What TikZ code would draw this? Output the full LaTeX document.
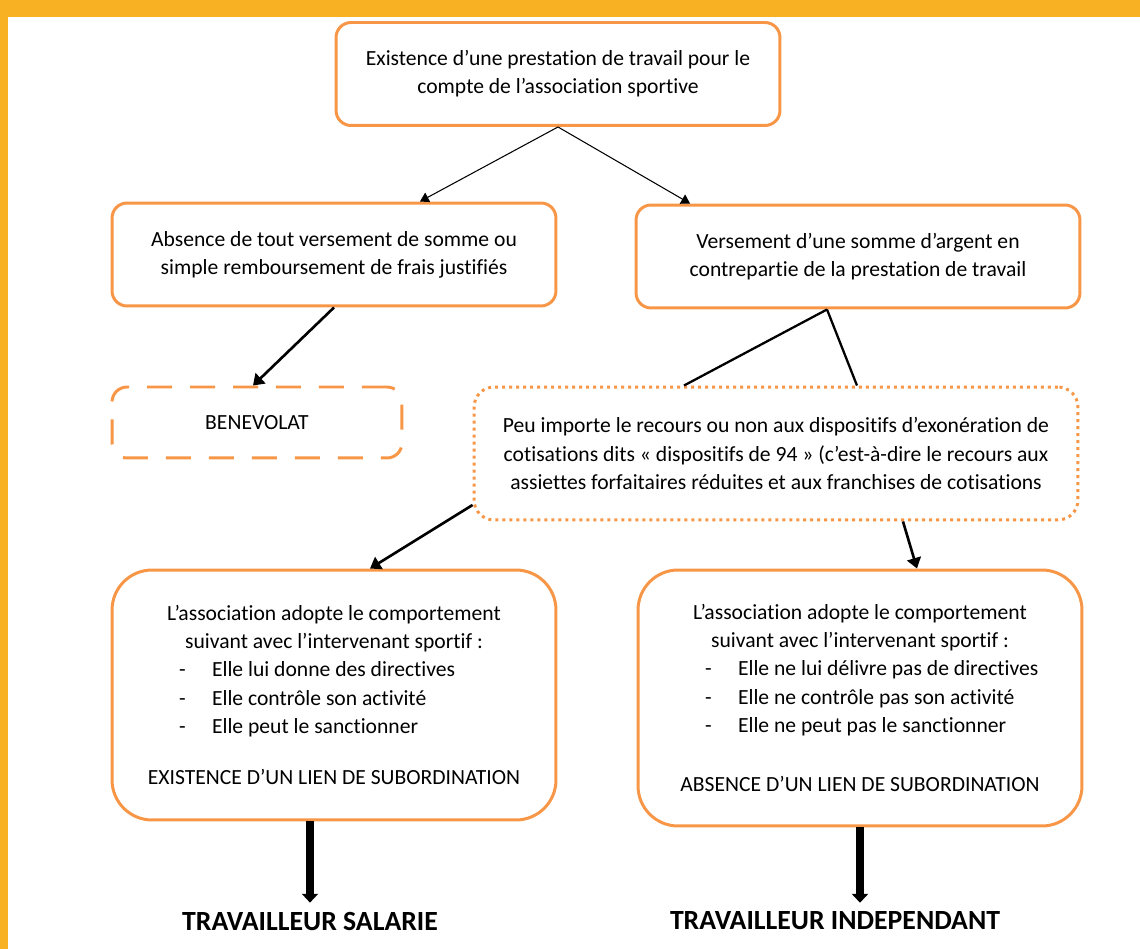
\documentclass[tikz,border=0pt]{standalone}
\usepackage{fontspec}
\setmainfont{Carlito}[Ligatures=NoCommon]
\usetikzlibrary{arrows.meta,positioning}
\definecolor{bandyellow}{HTML}{F8B122}
\definecolor{boxorange}{HTML}{F79646}
\tikzstyle{box}=[draw=boxorange, line width=1.7pt, rounded corners=0.3cm, align=center, inner sep=0pt, font=\fontsize{12.3}{16}\selectfont, minimum width=8.88cm, minimum height=2.06cm]
\tikzstyle{big box}=[box, rounded corners=0.8cm, text width=8.88cm, align=flush center]
\tikzstyle{dashed box}=[box, dash pattern=on 0.5cm off 0.36cm, minimum width=5.8cm, minimum height=1.42cm]
\tikzstyle{dotted box}=[box, dash pattern=on 0.06cm off 0.08cm, rounded corners=0.4cm, minimum width=12.08cm, minimum height=2.66cm]
\tikzstyle{thin arrow}=[draw, line width=0.6pt, -{Triangle[width=6pt,length=5pt]}]
\tikzstyle{mid arrow}=[draw, line width=1.5pt, -{Triangle[width=8pt,length=6pt]}]
\tikzstyle{mid line}=[draw, line width=1.3pt]
\tikzstyle{fat arrow}=[draw, line width=4pt, -{Triangle[width=9pt,length=5pt]}]
\tikzstyle{result}=[font=\fontsize{15.8}{18}\bfseries\selectfont, inner sep=5pt]
\newcommand\listline[1]{\makebox[8.88cm][l]{\hspace*{1.34cm}\makebox[0.66cm][l]{-}#1}}

\begin{document}
\begin{tikzpicture}[x=0.02cm, y=-0.02cm]
	\useasboundingbox (0,0) rectangle (1140,949);
	% Frame
	\fill[bandyellow] (0,0) rectangle (1140,17);
	\fill[bandyellow] (0,0) rectangle (8,949);
	
	% Boxes
	\node[box] (top) at (558,74) {Existence d’une prestation de travail pour le\\compte de l’association sportive};
	\node[box] (lft) at (334,254.5) {Absence de tout versement de somme ou\\simple remboursement de frais justifiés};
	\node[box] (rgt) at (858,256.5) {Versement d’une somme d’argent en\\contrepartie de la prestation de travail};
	\node[dashed box] (benev) at (257,422.5) {BENEVOLAT};
	\node[dotted box] (dots) at (776,453.5) {Peu importe le recours ou non aux dispositifs d’exonération de\\cotisations dits « dispositifs de 94 » (c’est-à-dire le recours aux\\assiettes forfaitaires réduites et aux franchises de cotisations};
	\node[big box, minimum height=5cm] (sal) at (334,695) {L’association adopte le comportement\\suivant avec l’intervenant sportif :\\
		\listline{Elle lui donne des directives}\\
		\listline{Elle contrôle son activité}\\
		\listline{Elle peut le sanctionner}\\[0.46cm]
		EXISTENCE D’UN LIEN DE SUBORDINATION};
	\node[big box, minimum height=5.12cm] (ind) at (860,698) {L’association adopte le comportement\\suivant avec l’intervenant sportif :\\
		\listline{Elle ne lui délivre pas de directives}\\
		\listline{Elle ne contrôle pas son activité}\\
		\listline{Elle ne peut pas le sanctionner}\\[0.62cm]
		ABSENCE D’UN LIEN DE SUBORDINATION};
	\node[result] (salarie) at (310,921) {TRAVAILLEUR SALARIE};
	\node[result] (independant) at (835,921) {TRAVAILLEUR INDEPENDANT};
	
	% Connectors
	\path[thin arrow] (top.south) -- ([xshift=1.72cm]lft.north);
	\path[thin arrow] (top.south) -- ([xshift=-3.36cm]rgt.north);
	\path[mid arrow] (lft.south) -- ([xshift=-0.08cm]benev.north);
	\path[mid line] ([xshift=-0.62cm]rgt.south) -- ([xshift=-1.84cm]dots.north);
	\path[mid line] ([xshift=-0.62cm]rgt.south) -- ([xshift=1.62cm]dots.north);
	\path[mid arrow] ([yshift=-1.03cm]dots.west) -- ([xshift=0.72cm]sal.north);
	\path[mid arrow] ([xshift=2.54cm]dots.south) -- ([xshift=1.14cm]ind.north);
	\path[fat arrow] (sal.south -| salarie.north) -- (salarie.north);
	\path[fat arrow] (ind.south) -- (ind.south |- independant.north);
\end{tikzpicture}
\end{document}
